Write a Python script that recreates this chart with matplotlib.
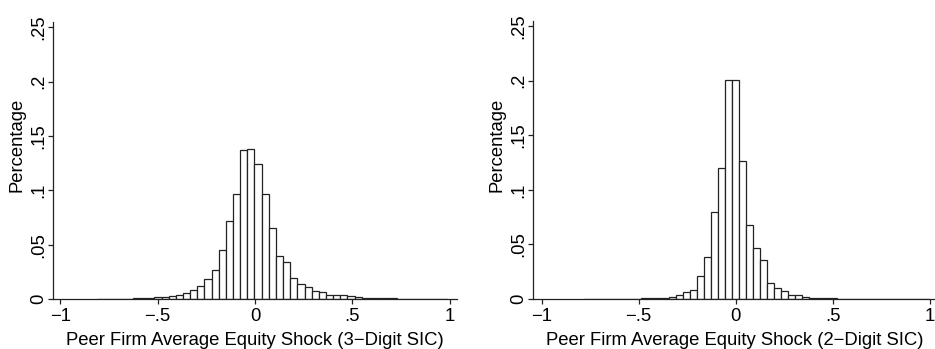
import numpy as np
import matplotlib
matplotlib.use("Agg")
import matplotlib.pyplot as plt

plt.rcParams['font.family'] = ['Liberation Sans', 'DejaVu Sans']

# histogram 1: 3-digit SIC peers (fraction per bin)
sic3_start = -0.81
sic3_width = 0.0367
sic3_heights = [0.0002, 0.0002, 0.0003, 0.0003, 0.0004, 0.0005, 0.0007, 0.001,
                0.0015, 0.002, 0.003, 0.004, 0.0055, 0.008, 0.0123, 0.0181,
                0.0267, 0.0454, 0.0718, 0.0966, 0.1374, 0.138, 0.124, 0.0966,
                0.0656, 0.0393, 0.034, 0.019, 0.0135, 0.0107, 0.0077, 0.0061,
                0.004, 0.0037, 0.0034, 0.0028, 0.0015, 0.0011, 0.0009, 0.0007,
                0.0006, 0.0005, 0.0004, 0.0003, 0.0002, 0.0002, 0.0001, 0.0001,
                0.0001]

# histogram 2: 2-digit SIC peers
sic2_start = -0.78
sic2_width = 0.0362
sic2_heights = [0.0001, 0.0001, 0.0002, 0.0002, 0.0002, 0.0003, 0.0003, 0.0004,
                0.0005, 0.0006, 0.0008, 0.0012, 0.002, 0.0037, 0.0061, 0.0086,
                0.0209, 0.0387, 0.08, 0.1202, 0.2006, 0.2006, 0.126, 0.0678,
                0.0466, 0.0353, 0.0144, 0.0098, 0.0077, 0.0037, 0.0037, 0.002,
                0.0012, 0.0008, 0.0006, 0.0005, 0.0004, 0.0003, 0.0002, 0.0002,
                0.0002, 0.0001, 0.0001, 0.0001, 0.0001, 0.0001, 0.0001, 0.0001,
                0.0001]

xticks = [-1, -0.5, 0, 0.5, 1]
xtick_labels = ['\u22121', '\u2212.5', '0', '.5', '1']
yticks = [0, 0.05, 0.1, 0.15, 0.2, 0.25]
ytick_labels = ['0', '.05', '.1', '.15', '.2', '.25']

W, H = 935, 349
fs = 13.3
fig = plt.figure(figsize=(W / 100, H / 100), dpi=100)

panels = [
    (sic3_start, sic3_width, sic3_heights, 'Peer Firm Average Equity Shock (3\u2212Digit SIC)',
     [53.3 / W, 50 / H, 403.4 / W, 277.3 / H], (-1.036, 1.036)),
    (sic2_start, sic2_width, sic2_heights, 'Peer Firm Average Equity Shock (2\u2212Digit SIC)',
     [533.3 / W, 50 / H, 402 / W, 278.3 / H], (-1.043, 1.028)),
]

for start, width, heights, xlabel, rect, xlim in panels:
    ax = fig.add_axes(rect)
    lefts = start + width * np.arange(len(heights))
    ax.bar(lefts, heights, width=width, align='edge', color='white',
           edgecolor='#222222', linewidth=0.9)
    ax.set_xlim(*xlim)
    ax.set_ylim(0, 0.255)
    ax.spines['top'].set_visible(False)
    ax.spines['right'].set_visible(False)
    for s in ('left', 'bottom'):
        ax.spines[s].set_linewidth(0.9)
        ax.spines[s].set_color('#222222')
    ax.set_xticks(xticks)
    ax.set_xticklabels(xtick_labels, fontsize=fs)
    ax.set_yticks(yticks)
    ax.set_yticklabels(ytick_labels, fontsize=fs, rotation=90, va='center')
    ax.tick_params(length=3.8, width=0.9, color='#222222')
    ax.tick_params(axis='x', pad=3)
    ax.tick_params(axis='y', pad=0.5)
    ax.set_xlabel(xlabel, fontsize=fs, labelpad=4.5)
    ax.set_ylabel('Percentage', fontsize=fs)
    ax.yaxis.set_label_coords(-0.07, 0.555)

fig.savefig('out.png', dpi=100)
